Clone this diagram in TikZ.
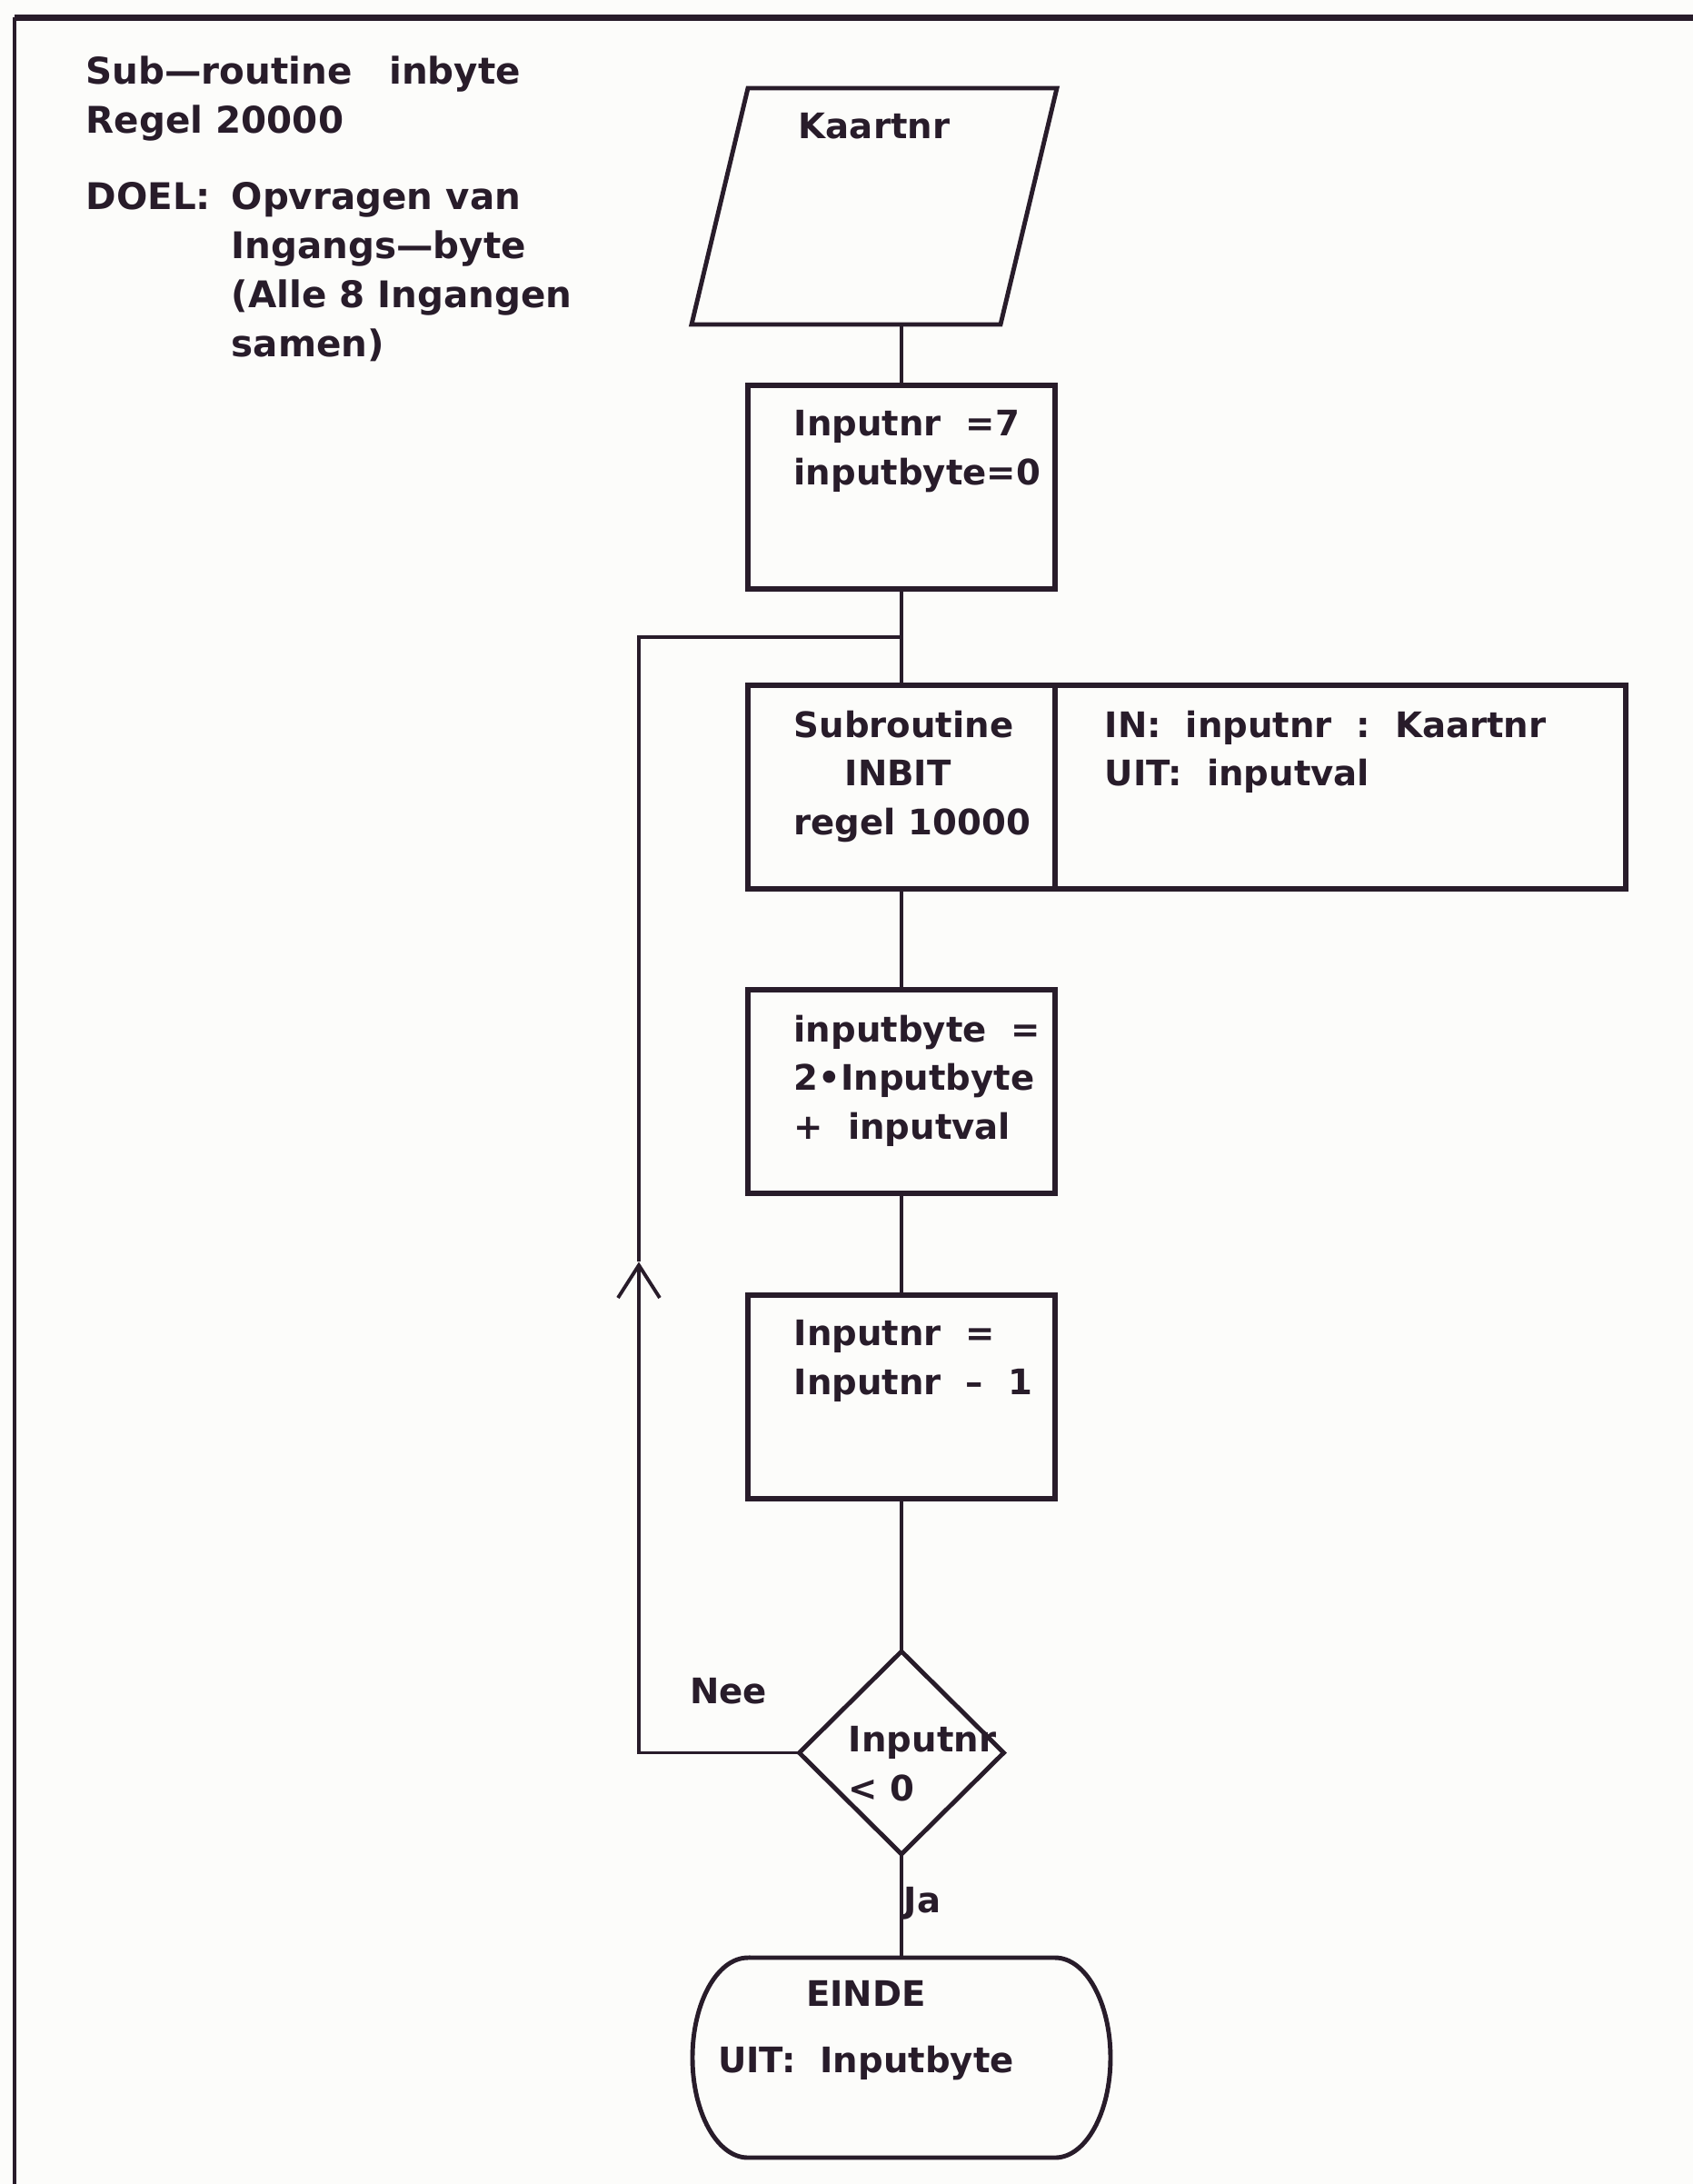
\documentclass[tikz,border=0pt]{standalone}
\usepackage{fontspec}
\setmainfont{DejaVu Sans}
\usetikzlibrary{positioning,arrows.meta,shapes.geometric,calc}

\definecolor{ink}{RGB}{40,28,42}
\definecolor{paper}{RGB}{252,252,250}

\begin{document}
\begin{tikzpicture}[
    font=\fontsize{11}{15.3}\selectfont\bfseries,
    text=ink,
    node distance=1.1cm,
    txt/.style={align=left, inner sep=0pt},
    inside/.style={txt, anchor=north west, xshift=0.5cm, yshift=-0.27cm},
    box/.style={
        draw=ink,
        line width=1.5pt,
        minimum width=3.38cm,
        minimum height=2.24cm,
        inner sep=0pt,
        outer sep=0pt
    },
    plain/.style={
        minimum width=3.4cm,
        minimum height=2.6cm,
        inner sep=0pt,
        outer sep=0pt
    },
    decision/.style={
        diamond,
        draw=ink,
        line width=1.4pt,
        minimum width=2.25cm,
        minimum height=2.23cm,
        inner sep=0pt,
        outer sep=0pt
    },
    conn/.style={draw=ink, line width=1.1pt},
    outline/.style={draw=ink, line width=1.4pt}
]

% Page and frame
\fill[paper] (0,0) rectangle (18.63,-24.03);
\useasboundingbox (0,0) rectangle (18.63,-24.03);
\draw[ink, line width=1.2pt] (0.16,-24.03) -- (0.16,-0.19);
\draw[ink, line width=2pt] (0.16,-0.19) -- (18.63,-0.19);

% Header
\node[txt, anchor=north west, font=\fontsize{11.5}{15.3}\selectfont\bfseries] (header) at (0.94,-0.61)
    {Sub---routine\hspace{1em}inbyte\\Regel 20000\\[0.31cm]%
     \makebox[1.6cm][l]{DOEL:}Opvragen van\\
     \hspace*{1.6cm}Ingangs---byte\\
     \hspace*{1.6cm}(Alle 8 Ingangen\\
     \hspace*{1.6cm}samen)};

% Main column
\node[box, label={[inside]north west:Inputnr\ \ =7\\inputbyte=0}] (init) at (9.92,-5.36) {};
\node[plain, above=0.67cm of init, xshift=-0.3cm,
      label={[txt, anchor=north, yshift=-0.27cm]north:Kaartnr}] (card) {};
\draw[outline] ([xshift=0.31cm]card.north west) -- ([xshift=0.31cm]card.north east)
    -- ([xshift=-0.31cm]card.south east) -- ([xshift=-0.31cm]card.south west) -- cycle;
\node[box, below=1.06cm of init,
      label={[inside]north west:Subroutine\\\hspace*{1.45em}INBIT\\regel 10000}] (call) {};
\node[box, right=0pt of call, minimum width=6.28cm,
      label={[inside, xshift=0.04cm]north west:IN:\ \ inputnr\ \ :\ \ Kaartnr\\UIT:\ \ inputval}] (callinfo) {};
\node[box, below=1.11cm of call,
      label={[inside]north west:inputbyte\ \ =\\2•Inputbyte\\+\ \ inputval}] (shift) {};
\node[box, below=1.12cm of shift,
      label={[inside]north west:Inputnr\ \ =\\Inputnr\ \ --\ \ 1}] (decr) {};
\node[decision, below=1.68cm of decr,
      label={[txt, xshift=0.23cm, yshift=-0.12cm]center:Inputnr\\< 0}] (test) {};
\node[plain, minimum width=3.38cm, minimum height=2.2cm, below=1.14cm of test,
      label={[txt, align=center, xshift=-0.39cm, yshift=0.3cm]center:EINDE\\[0.19cm]UIT:\ \ Inputbyte}] (done) {};
\draw[outline] (done.north west) -- (done.north east)
    arc[start angle=90, end angle=-90, x radius=0.61cm, y radius=1.1cm]
    -- (done.south west)
    arc[start angle=270, end angle=90, x radius=0.61cm, y radius=1.1cm] -- cycle;

% Branch labels
\node[txt] (no) at ($(test.west)+(-0.78,0.68)$) {Nee};
\node[txt, anchor=west] (yes) at ($(test.south)+(0.02,-0.54)$) {Ja};

% Connectors
\draw[conn] (card.south -| init.north) -- (init.north);
\draw[conn] (init) -- (call);
\draw[conn] (call) -- (shift);
\draw[conn] (shift) -- (decr);
\draw[conn] (decr) -- (test);
\draw[conn] (test) -- (done);

% Loop back
\coordinate (join) at ($(init.south)!0.5!(call.north)$);
\coordinate (loop) at ([xshift=-2.89cm]join);
\coordinate (tip) at ($(loop)!0.56!(loop |- test.west)$);
\draw[conn, -{Straight Barb[length=0.36cm, width=0.46cm]}] (test.west) -| (tip);
\draw[conn] (tip) |- (join);

\end{tikzpicture}
\end{document}
